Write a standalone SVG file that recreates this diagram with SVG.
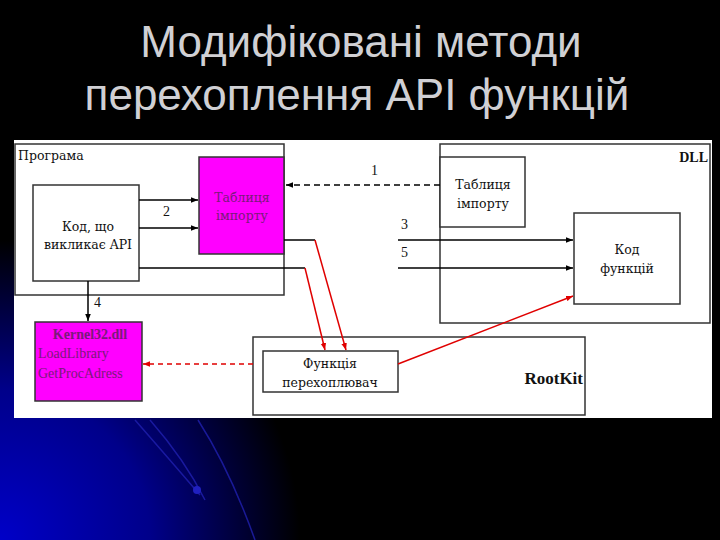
<svg xmlns="http://www.w3.org/2000/svg" width="720" height="540" viewBox="0 0 720 540">
<defs>
<radialGradient id="glow" cx="0" cy="540" r="300" gradientUnits="userSpaceOnUse">
<stop offset="0" stop-color="#0000c8"/>
<stop offset="0.5" stop-color="#00008a"/>
<stop offset="1" stop-color="#000000"/>
</radialGradient>
<marker id="ab" viewBox="0 0 10 10" refX="10" refY="5" markerWidth="7" markerHeight="7" orient="auto" markerUnits="userSpaceOnUse"><path d="M0,1 L10,5 L0,9 z" fill="#000"/></marker>
<marker id="ar" viewBox="0 0 10 10" refX="10" refY="5" markerWidth="7" markerHeight="7" orient="auto" markerUnits="userSpaceOnUse"><path d="M0,1 L10,5 L0,9 z" fill="#e00000"/></marker>
<style>
.box{fill:#fff;stroke:#333;stroke-width:1.5}
.mag{fill:#ff00ff;stroke:#333;stroke-width:1.5}
.t{font-family:"Liberation Serif","Times New Roman",serif;font-size:14px;fill:#111}
.cy{font-family:"DejaVu Serif","Noto Serif","Liberation Serif",serif;font-size:12.5px}
.tc{text-anchor:middle}
.tp{fill:#7a1a7a}
.b{font-weight:bold}
.ln{stroke:#000;stroke-width:1.5;fill:none}
.rd{stroke:#e00000;stroke-width:1.5;fill:none}
.title{font-family:"Liberation Sans",Arial,sans-serif;font-size:44px;fill:#d0d0d4;text-anchor:middle}
</style>
</defs>
<rect width="720" height="540" fill="#000"/>
<rect width="720" height="540" fill="url(#glow)"/>
<g stroke="#2020b0" stroke-width="1.5" fill="none" opacity="0.8">
<path d="M135,420 Q170,460 200,495"/>
<path d="M150,420 Q185,460 205,500"/>
<path d="M198,420 Q230,470 255,540"/>
</g>
<circle cx="197" cy="490" r="4" fill="#2020c0"/>
<text class="title" x="361" y="57">Модифіковані методи</text>
<text class="title" x="357" y="110">перехоплення API функцій</text>
<rect x="14" y="140" width="698" height="278" fill="#fff"/>

<g id="program"><rect class="box" x="15" y="144" width="269" height="151"/><text class="t cy" x="18" y="160">Програма</text></g>
<g id="dll"><rect class="box" x="440" y="144" width="270" height="179"/><text class="t b" x="708" y="162" text-anchor="end">DLL</text></g>
<g id="rootkit"><rect class="box" x="253" y="337" width="332" height="78"/><text class="t b" x="583" y="384" text-anchor="end" style="font-size:17px">RootKit</text></g>
<g id="code"><rect class="box" x="33" y="185" width="106" height="96"/><text class="t cy tc" x="88" y="231">Код, що</text><text class="t cy tc" x="88" y="249">викликає API</text></g>
<g id="import1"><rect class="mag" x="199" y="157" width="85" height="97"/><text class="t cy tc tp" x="242" y="202">Таблиця</text><text class="t cy tc tp" x="242" y="220">імпорту</text></g>
<g id="import2"><rect class="box" x="440" y="157" width="85" height="70"/><text class="t cy tc" x="483" y="189">Таблиця</text><text class="t cy tc" x="483" y="208">імпорту</text></g>
<g id="funccode"><rect class="box" x="574" y="213" width="106" height="91"/><text class="t cy tc" x="627" y="254">Код</text><text class="t cy tc" x="627" y="273">функцій</text></g>
<g id="kernel"><rect class="mag" x="35" y="322" width="107" height="79"/><text class="t tc tp b" x="90" y="339">Kernel32.dll</text><text class="t tp" x="38" y="358">LoadLibrary</text><text class="t tp" x="38" y="378">GetProcAdress</text></g>
<g id="hook"><rect class="box" x="263" y="351" width="135" height="41"/><text class="t cy tc" x="330" y="368">Функція</text><text class="t cy tc" x="330" y="387">перехоплювач</text></g>

<g id="connectors">
<line class="ln" x1="440" y1="185" x2="286" y2="185" stroke-dasharray="6,4" marker-end="url(#ab)"/>
<text class="t" x="371" y="175">1</text>
<line class="ln" x1="139" y1="200" x2="198" y2="200" marker-end="url(#ab)"/>
<line class="ln" x1="139" y1="228" x2="198" y2="228" marker-end="url(#ab)"/>
<text class="t" x="163" y="216">2</text>
<line class="ln" x1="398" y1="240" x2="573" y2="240" marker-end="url(#ab)"/>
<text class="t" x="401" y="229">3</text>
<line class="ln" x1="398" y1="268" x2="573" y2="268" marker-end="url(#ab)"/>
<text class="t" x="401" y="257">5</text>
<line class="ln" x1="88" y1="281" x2="88" y2="321" marker-end="url(#ab)"/>
<text class="t" x="94" y="307">4</text>
<polyline class="ln" points="284,240 315,240"/>
<line class="rd" x1="315" y1="240" x2="346" y2="350" marker-end="url(#ar)"/>
<polyline class="ln" points="139,268 305,268"/>
<line class="rd" x1="305" y1="268" x2="325" y2="350" marker-end="url(#ar)"/>
<line class="rd" x1="398" y1="364" x2="573" y2="296" marker-end="url(#ar)"/>
<line class="rd" x1="253" y1="364" x2="143" y2="364" stroke-dasharray="5,4" marker-end="url(#ar)"/>
</g>
</svg>
